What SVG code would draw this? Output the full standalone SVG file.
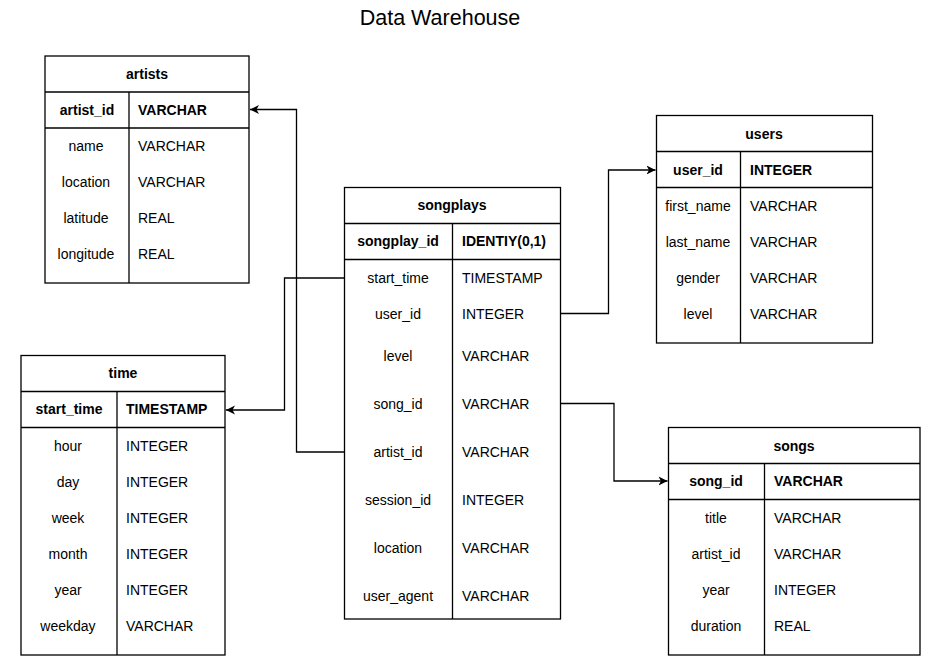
<svg xmlns="http://www.w3.org/2000/svg" width="937" height="668" viewBox="0 0 937 668">
<style>
  text { font-family: "Liberation Sans", Arial, sans-serif; font-size: 14px; fill: #000; }
  .title { font-size: 21.5px; text-anchor: middle; }
  .h { font-weight: bold; text-anchor: middle; }
  .pk { font-weight: bold; }
  .c { text-anchor: middle; }
  .box { fill: #fff; stroke: #000; stroke-width: 1.3; }
  .ln { stroke: #000; stroke-width: 1.3; fill: none; }
  .conn { stroke: #000; stroke-width: 1.3; fill: none; }
</style>
<defs>
  <marker id="arr" markerWidth="10" markerHeight="10" refX="9" refY="5" orient="auto" markerUnits="userSpaceOnUse">
    <path d="M0,0.5 L9,5 L0,9.5 L2.5,5 Z" fill="#000"/>
  </marker>
</defs>
<rect width="937" height="668" fill="#fff"/>
<text class="title" x="440" y="25">Data Warehouse</text>

<g id="artists">
  <rect class="box" x="45" y="56" width="204" height="227"/>
  <line class="ln" x1="45" y1="92" x2="249" y2="92"/>
  <line class="ln" x1="45" y1="128" x2="249" y2="128"/>
  <line class="ln" x1="129" y1="92" x2="129" y2="283"/>
  <text class="h" x="147" y="79">artists</text>
  <text class="h" x="87" y="115">artist_id</text>
  <text class="pk" x="138" y="115">VARCHAR</text>
  <text class="c" x="86" y="151">name</text><text x="138" y="151">VARCHAR</text>
  <text class="c" x="86" y="187">location</text><text x="138" y="187">VARCHAR</text>
  <text class="c" x="86" y="223">latitude</text><text x="138" y="223">REAL</text>
  <text class="c" x="86" y="259">longitude</text><text x="138" y="259">REAL</text>
</g>

<g id="songplays">
  <rect class="box" x="344.5" y="187.5" width="216" height="431.5"/>
  <line class="ln" x1="344.5" y1="223.5" x2="560.5" y2="223.5"/>
  <line class="ln" x1="344.5" y1="259.5" x2="560.5" y2="259.5"/>
  <line class="ln" x1="452.5" y1="223.5" x2="452.5" y2="619"/>
  <text class="h" x="452" y="210">songplays</text>
  <text class="h" x="398" y="246">songplay_id</text>
  <text class="pk" x="462" y="246">IDENTIY(0,1)</text>
  <text class="c" x="398" y="283">start_time</text><text x="462" y="283">TIMESTAMP</text>
  <text class="c" x="398" y="319">user_id</text><text x="462" y="319">INTEGER</text>
  <text class="c" x="398" y="361">level</text><text x="462" y="361">VARCHAR</text>
  <text class="c" x="398" y="409">song_id</text><text x="462" y="409">VARCHAR</text>
  <text class="c" x="398" y="457">artist_id</text><text x="462" y="457">VARCHAR</text>
  <text class="c" x="398" y="505">session_id</text><text x="462" y="505">INTEGER</text>
  <text class="c" x="398" y="553">location</text><text x="462" y="553">VARCHAR</text>
  <text class="c" x="398" y="601">user_agent</text><text x="462" y="601">VARCHAR</text>
</g>

<g id="time">
  <rect class="box" x="21" y="355.5" width="204" height="299.5"/>
  <line class="ln" x1="21" y1="391.5" x2="225" y2="391.5"/>
  <line class="ln" x1="21" y1="427.5" x2="225" y2="427.5"/>
  <line class="ln" x1="117" y1="391.5" x2="117" y2="655"/>
  <text class="h" x="123" y="378">time</text>
  <text class="h" x="69" y="414">start_time</text>
  <text class="pk" x="126" y="414">TIMESTAMP</text>
  <text class="c" x="68" y="451">hour</text><text x="126" y="451">INTEGER</text>
  <text class="c" x="68" y="487">day</text><text x="126" y="487">INTEGER</text>
  <text class="c" x="68" y="523">week</text><text x="126" y="523">INTEGER</text>
  <text class="c" x="68" y="559">month</text><text x="126" y="559">INTEGER</text>
  <text class="c" x="68" y="595">year</text><text x="126" y="595">INTEGER</text>
  <text class="c" x="68" y="631">weekday</text><text x="126" y="631">VARCHAR</text>
</g>

<g id="users">
  <rect class="box" x="656.5" y="115.5" width="216" height="227.5"/>
  <line class="ln" x1="656.5" y1="151.5" x2="872.5" y2="151.5"/>
  <line class="ln" x1="656.5" y1="187.5" x2="872.5" y2="187.5"/>
  <line class="ln" x1="740.5" y1="151.5" x2="740.5" y2="343"/>
  <text class="h" x="764" y="139">users</text>
  <text class="h" x="698" y="175">user_id</text>
  <text class="pk" x="750" y="175">INTEGER</text>
  <text class="c" x="698" y="211">first_name</text><text x="750" y="211">VARCHAR</text>
  <text class="c" x="698" y="247">last_name</text><text x="750" y="247">VARCHAR</text>
  <text class="c" x="698" y="283">gender</text><text x="750" y="283">VARCHAR</text>
  <text class="c" x="698" y="319">level</text><text x="750" y="319">VARCHAR</text>
</g>

<g id="songs">
  <rect class="box" x="668.5" y="427.5" width="251.5" height="227.5"/>
  <line class="ln" x1="668.5" y1="463.5" x2="920" y2="463.5"/>
  <line class="ln" x1="668.5" y1="499.5" x2="920" y2="499.5"/>
  <line class="ln" x1="764.5" y1="463.5" x2="764.5" y2="655"/>
  <text class="h" x="794" y="451">songs</text>
  <text class="h" x="716" y="486">song_id</text>
  <text class="pk" x="774" y="486">VARCHAR</text>
  <text class="c" x="716" y="523">title</text><text x="774" y="523">VARCHAR</text>
  <text class="c" x="716" y="559">artist_id</text><text x="774" y="559">VARCHAR</text>
  <text class="c" x="716" y="595">year</text><text x="774" y="595">INTEGER</text>
  <text class="c" x="716" y="631">duration</text><text x="774" y="631">REAL</text>
</g>

<g id="connectors">
  <path class="conn" d="M344.5,278 H284.5 V410 H226" marker-end="url(#arr)"/>
  <path class="conn" d="M344.5,452 H296.5 V109.5 H250" marker-end="url(#arr)"/>
  <path class="conn" d="M560.5,313.5 H608.5 V170 H655.5" marker-end="url(#arr)"/>
  <path class="conn" d="M560.5,403.5 H614 V481 H667.5" marker-end="url(#arr)"/>
</g>
</svg>
